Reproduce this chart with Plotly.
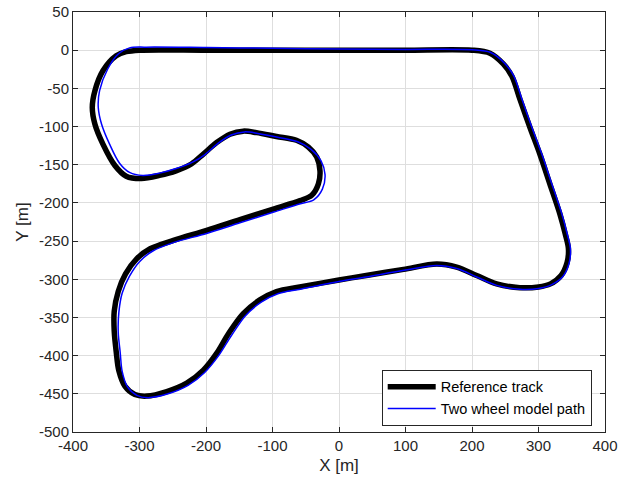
import plotly.graph_objects as go

ref_x = [200, 100, 0, -100, -200, -300, -320, -335, -355, -367, -371, -367, -355, -337, -320, -297, -270,
         -245, -222, -204, -184, -164, -144, -124, -94, -64, -46, -33.5, -28.6, -31, -41, -58.6, -98.8,
         -149, -199, -249, -284, -304, -321, -332, -338, -338, -335, -331, -322, -307, -289, -259, -229, -204,
         -184, -166, -144, -119, -94, -59, 0, 41, 97, 147, 177, 207, 237, 272, 300, 318, 334, 343, 345,
         340, 332, 317, 302, 287, 272, 260, 247, 227, 200]
ref_y = [0, 0, 0, 0, 0, 0, -2, -7.4, -27, -53, -75, -97, -123, -151, -165, -168, -164,
         -158, -149, -136, -121, -110, -106, -108, -113, -118, -127, -140, -158, -175, -190, -197, -208,
         -222, -236, -249, -260, -273, -293, -316, -342, -368, -395, -420, -440, -451, -453, -447, -436, -419,
         -397, -371, -345, -327, -316, -310, -301, -295, -287, -280, -284, -295, -306, -311, -310, -306,
         -295, -278, -260, -240, -214, -175, -136, -101, -64, -34, -18, -4, 0]

mod_x = [200, 100, 0, -100, -200, -290, -315, -332, -348, -360, -362, -357, -345, -330, -315, -295, -270,
         -245, -221, -202, -182, -162, -142, -122, -92, -62, -42, -27, -21, -25, -38, -58, -98,
         -149, -199, -249, -280, -300, -315, -326, -331, -332, -329, -326, -318, -304, -287, -257, -227, -202,
         -181, -162, -141, -117, -92, -58, 0, 41, 100, 147, 177, 207, 237, 272, 300, 320, 337, 346, 348,
         343, 335, 320, 305, 290, 275, 263, 249, 228, 200]
mod_y = [0.5, 1, 1.5, 2.5, 3.5, 4, 3, -5, -25, -53, -75, -97, -123, -148, -160, -164, -161,
         -155, -147, -137, -122, -111, -107, -109, -114, -120, -130, -145, -163, -182, -196, -201, -212,
         -226, -240, -252, -263, -277, -296, -318, -343, -369, -396, -421, -441, -452, -455, -450, -439, -422,
         -400, -374, -348, -330, -319, -313, -303, -297, -288, -282, -286, -297, -308, -313, -312, -307,
         -296, -279, -260, -240, -214, -175, -136, -101, -64, -34, -17, -3, 0.5]

x_ticks = [-400, -300, -200, -100, 0, 100, 200, 300, 400]
y_ticks = [50, 0, -50, -100, -150, -200, -250, -300, -350, -400, -450, -500]

FONT = "Liberation Sans, Arial, sans-serif"

fig = go.Figure()
fig.add_trace(go.Scatter(x=ref_x, y=ref_y, mode="lines", name="Reference track",
                         line=dict(color="black", width=5.5, shape="spline", smoothing=0.9)))
fig.add_trace(go.Scatter(x=mod_x, y=mod_y, mode="lines", name="Two wheel model path",
                         line=dict(color="#0000ff", width=1.5, shape="spline", smoothing=0.9)))

axis_common = dict(showgrid=True, gridcolor="#dedede", gridwidth=1, zeroline=False,
                   showline=True, linecolor="#262626", linewidth=1, mirror="ticks",
                   ticks="inside", ticklen=5, tickcolor="#262626", automargin=False,
                   tickfont=dict(family=FONT, size=15, color="#262626"))

fig.update_layout(
    width=621, height=486,
    margin=dict(l=73, r=16, t=12, b=54),
    paper_bgcolor="white", plot_bgcolor="white",
    xaxis=dict(range=[-400, 400], tickvals=x_ticks, ticktext=[str(v) for v in x_ticks],
               title=dict(text="X [m]", font=dict(family=FONT, size=17, color="#262626"), standoff=6),
               **axis_common),
    yaxis=dict(range=[-500, 50], tickvals=y_ticks, ticktext=[str(v) for v in y_ticks],
               title=dict(text="Y [m]", font=dict(family=FONT, size=17, color="#262626"), standoff=6),
               **axis_common),
    legend=dict(x=0.975, y=0.015, xanchor="right", yanchor="bottom",
                bgcolor="white", bordercolor="#262626", borderwidth=1,
                font=dict(family=FONT, size=14.5, color="black"),
                tracegroupgap=0, itemwidth=48),
    showlegend=True,
)

fig.write_html("out.html")
